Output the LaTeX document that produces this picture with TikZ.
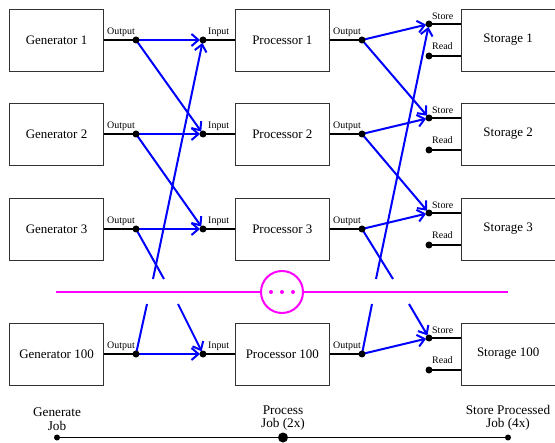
\documentclass[tikz,border=0pt]{standalone}
\usepackage{fontspec}
\setmainfont{Liberation Serif}
\usetikzlibrary{positioning,arrows.meta}
\definecolor{gapcolor}{RGB}{255,0,255}
\tikzstyle{block} = [rectangle, minimum width=94bp, minimum height=62bp, text centered, draw=black!80, line width=0.8bp, font=\fontsize{13}{15}\selectfont]
\tikzstyle{wire} = [line width=1.6bp]
\tikzstyle{pin} = [font=\fontsize{10}{12}\selectfont, inner sep=1bp]
\tikzstyle{flow} = [blue, line width=2bp, -{Straight Barb[length=7bp,width=12bp]}, shorten >=3bp]
\tikzstyle{cut} = [blue, line width=2bp]
\tikzstyle{gap} = [gapcolor, line width=2bp]
\tikzstyle{stage} = [align=center, anchor=south, inner sep=0pt, font=\fontsize{13.3}{13.5}\selectfont]

\begin{document}
\begin{tikzpicture}[x=1bp, y=-1bp, node distance=131bp]
\useasboundingbox (0,0) rectangle (555,443);
\foreach \i/\y in {1/40,2/134,3/229,100/354} {
  \node (gen\i) [block] at (56.5,\y) {Generator \i};
  \node (proc\i) [block, right=of gen\i] {Processor \i};
  \node (stor\i) [block, right=of proc\i] {Storage \i};
  \coordinate (gout\i) at (136,\y);
  \coordinate (pin\i) at (203,\y);
  \coordinate (pout\i) at (362,\y);
  \coordinate (sin\i) at (429,\y-16);
  \coordinate (sread\i) at (429,\y+16);
  \draw [wire] (gen\i.east) -- (gout\i);
  \draw [wire] (pin\i) -- (proc\i.west);
  \draw [wire] (proc\i.east) -- (pout\i);
  \draw [wire] (sin\i) -- (sin\i -| stor\i.west);
  \draw [wire] (sread\i) -- (sread\i -| stor\i.west);
  \node (goutlbl\i) [pin, anchor=south east, yshift=2bp] at (gout\i) {Output};
  \node (pinlbl\i) [pin, anchor=south west, xshift=4bp, yshift=2bp] at (pin\i) {Input};
  \node (poutlbl\i) [pin, anchor=south east, yshift=2bp] at (pout\i) {Output};
  \node (sinlbl\i) [pin, anchor=south west, xshift=2bp, yshift=3bp] at (sin\i) {Store};
  \node (sreadlbl\i) [pin, anchor=south west, xshift=2bp, yshift=5bp] at (sread\i) {Read};
  \draw [flow] (gout\i) -- (pin\i);
  \draw [flow] (pout\i) -- (sin\i);
}
\foreach \a/\b in {1/2,2/3} {
  \draw [flow] (gout\a) -- (pin\b);
  \draw [flow] (pout\a) -- (sin\b);
}
% lines broken at the gap
\coordinate (g3end) at (164,279);
\coordinate (g1start) at (153,279);
\coordinate (g100end) at (147,304);
\coordinate (g100start) at (178,304);
\coordinate (p3end) at (393,279);
\coordinate (s1start) at (376,279);
\coordinate (p100end) at (372,304);
\coordinate (s100start) at (409,304);
\draw [cut] (gout3) -- (g3end);
\draw [flow] (g1start) -- (pin1);
\draw [cut] (gout100) -- (g100end);
\draw [flow] (g100start) -- (pin100);
\draw [cut] (pout3) -- (p3end);
\draw [flow] (s1start) -- (sin1);
\draw [cut] (pout100) -- (p100end);
\draw [flow] (s100start) -- (sin100);
% gap marker
\node (more) [circle, draw=gapcolor, line width=2bp, minimum size=42bp, inner sep=0pt] at (282,292) {};
\coordinate (gapl) at (56,292);
\coordinate (gapr) at (508,292);
\draw [gap] (gapl) -- (more.west);
\draw [gap] (more.east) -- (gapr);
\foreach \x in {271,282,293} \fill [gapcolor] (\x,292) circle[radius=2bp];
% time line
\coordinate (tl1) at (57,437.5);
\coordinate (tl2) at (283,437.5);
\coordinate (tl3) at (508,437.5);
\draw [wire] (tl1) -- (tl3);
\fill (tl1) circle[radius=3bp];
\fill (tl2) circle[radius=5bp];
\fill (tl3) circle[radius=3bp];
\node (tllbl1) [stage] at ([yshift=7bp]tl1) {Generate\\Job};
\node (tllbl2) [stage] at ([yshift=7bp]tl2) {Process\\Job (2x)};
\node (tllbl3) [stage] at ([yshift=7bp]tl3) {Store Processed\\Job (4x)};
% dots on the pins
\foreach \i in {1,2,3,100} {
  \foreach \p in {gout,pin,pout,sin,sread} \fill (\p\i) circle[radius=3.5bp];
}
\end{tikzpicture}
\end{document}
